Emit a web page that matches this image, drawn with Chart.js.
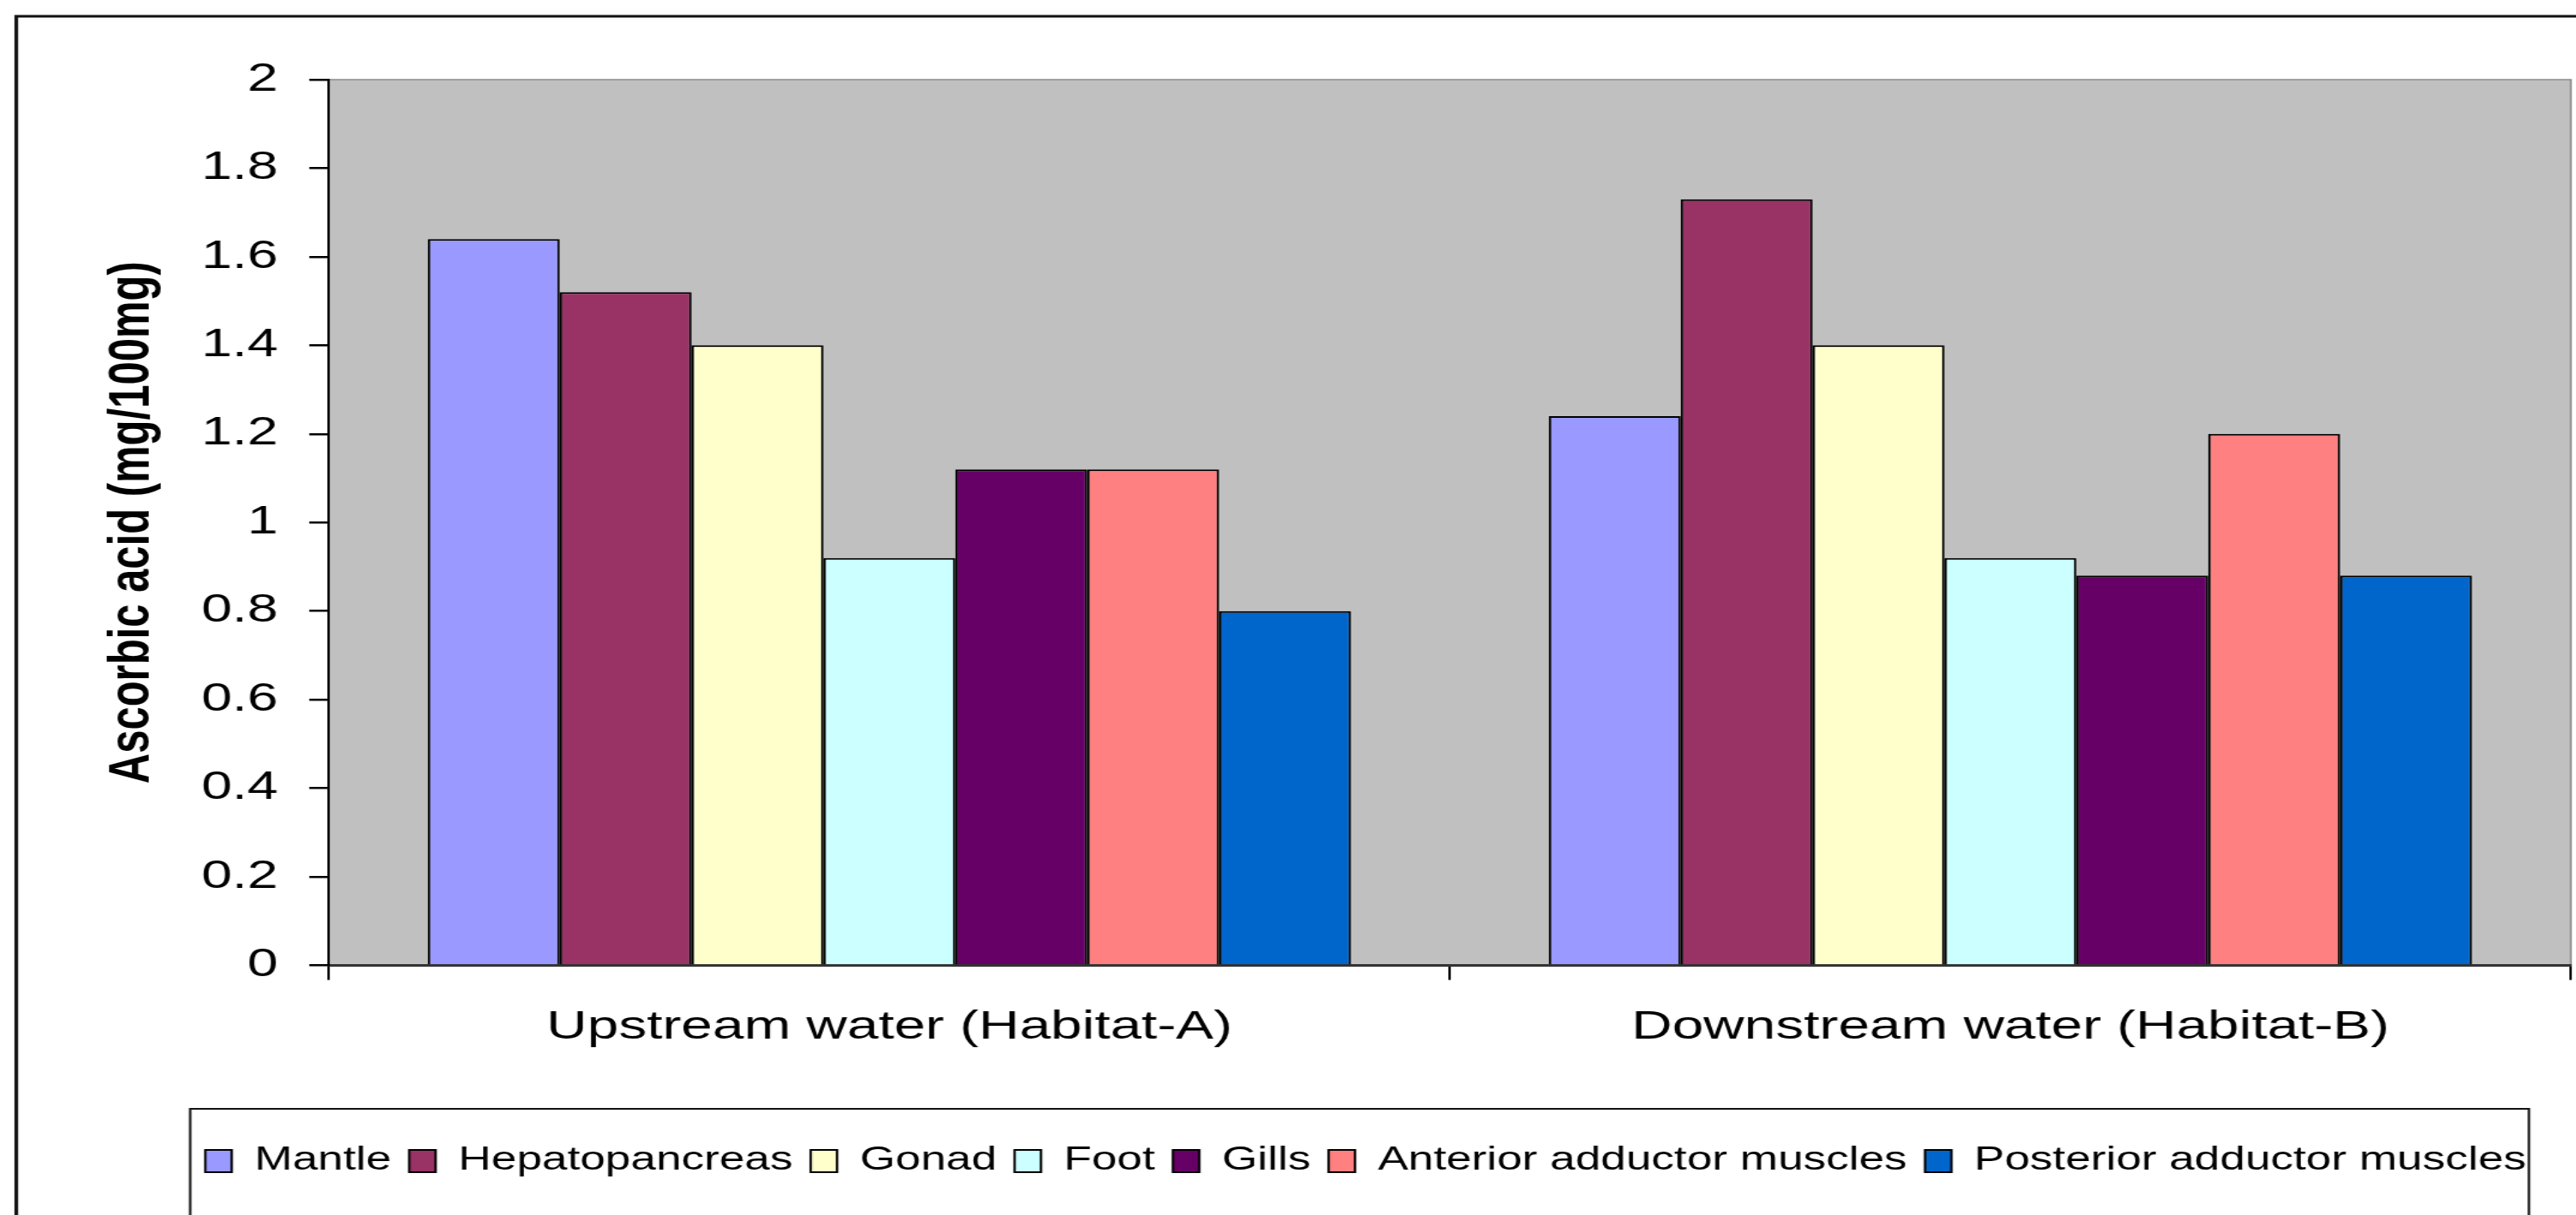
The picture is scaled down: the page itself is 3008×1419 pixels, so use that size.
<!DOCTYPE html>
<html>
<head>
<meta charset="utf-8">
<script src="https://cdn.jsdelivr.net/npm/chart.js@4.4.1/dist/chart.umd.min.js"></script>
<style>
html,body{margin:0;padding:0;background:#fff;overflow:hidden;width:3008px;height:1419px}
#wrap{position:absolute;left:0;top:0;width:2149px;height:1419px;transform:scaleX(1.4);transform-origin:0 0}
canvas{display:block}
</style>
</head>
<body>
<div id="wrap"><canvas id="c" width="2149" height="1419"></canvas></div>
<script>
// ---- data ----
const categories = ['Upstream water (Habitat-A)', 'Downstream water (Habitat-B)'];
const seriesNames = ['Mantle', 'Hepatopancreas', 'Gonad', 'Foot', 'Gills', 'Anterior adductor muscles', 'Posterior adductor muscles'];
const mantle = [1.64, 1.24];
const hepatopancreas = [1.52, 1.73];
const gonad = [1.40, 1.40];
const foot = [0.92, 0.92];
const gills = [1.12, 0.88];
const anteriorAdductor = [1.12, 1.20];
const posteriorAdductor = [0.80, 0.88];
const yTickLabels = ['0', '0.2', '0.4', '0.6', '0.8', '1', '1.2', '1.4', '1.6', '1.8', '2'];
const yTitle = 'Ascorbic acid (mg/100mg)';

// ---- style ----
const seriesValues = [mantle, hepatopancreas, gonad, foot, gills, anteriorAdductor, posteriorAdductor];
const seriesColors = ['#9999FF', '#993366', '#FFFFCC', '#CCFFFF', '#660066', '#FF8080', '#0066CC'];
const FONT = "'Liberation Sans', Arial, Helvetica, sans-serif";

const decor = {
  id: 'decor',
  afterLayout(chart) {
    chart.legend.left = 134;
  },
  beforeDraw(chart) {
    const ctx = chart.ctx, a = chart.chartArea;
    ctx.save();
    ctx.fillStyle = '#ffffff';
    ctx.fillRect(0, 0, chart.width, chart.height);
    ctx.fillStyle = '#C0C0C0';
    ctx.fillRect(a.left, a.top, a.right - a.left, a.bottom - a.top);
    ctx.strokeStyle = '#8a8a8a';
    ctx.lineWidth = 1.5;
    ctx.strokeRect(a.left, a.top, a.right - a.left, a.bottom - a.top);
    // outer frame
    ctx.strokeStyle = '#111';
    ctx.lineWidth = 3;
    ctx.beginPath();
    ctx.moveTo(13.6, 1500);
    ctx.lineTo(13.6, 19);
    ctx.lineTo(2300, 19);
    ctx.stroke();
    ctx.restore();
  },
  afterDraw(chart) {
    const ctx = chart.ctx;
    ctx.save();
    ctx.strokeStyle = '#111';
    ctx.lineWidth = 2;
    ctx.strokeRect(158.6, 1295, 2109.3 - 158.6, 200);
    ctx.restore();
  }
};

new Chart(document.getElementById('c'), {
  type: 'bar',
  data: {
    labels: categories,
    datasets: seriesNames.map((name, i) => ({
      label: name,
      data: seriesValues[i],
      backgroundColor: seriesColors[i],
      borderColor: '#000',
      borderWidth: 2,
      categoryPercentage: 0.8235,
      barPercentage: 1.0
    }))
  },
  options: {
    responsive: false,
    devicePixelRatio: 1,
    animation: false,
    layout: { padding: { left: 0, right: 4.7, top: 93, bottom: 34 } },
    plugins: {
      tooltip: { enabled: false },
      legend: {
        position: 'bottom',
        labels: {
          color: '#000',
          font: { family: FONT, size: 38 },
          boxWidth: 22,
          boxHeight: 26,
          padding: 15
        }
      }
    },
    scales: {
      x: {
        grid: { display: true, drawOnChartArea: false, drawTicks: true, tickLength: 17, color: '#000', lineWidth: 2, offset: true },
        border: { display: true, color: '#333', width: 3 },
        ticks: { color: '#000', font: { family: FONT, size: 47 }, padding: 27, maxRotation: 0 },
        afterFit(scale) { scale.height = 194.5; }
      },
      y: {
        min: 0,
        max: 2,
        grid: { display: true, drawOnChartArea: false, drawTicks: true, tickLength: 16.4, color: '#000', lineWidth: 2.5 },
        border: { display: true, color: '#000', width: 2 },
        ticks: {
          stepSize: 0.2,
          color: '#000',
          font: { family: FONT, size: 46 },
          padding: 26,
          callback: (v, i) => yTickLabels[i]
        },
        title: {
          display: true,
          text: yTitle,
          color: '#000',
          font: { family: FONT, size: 49, weight: 'bold' },
          padding: { top: 80.6, bottom: 0 }
        },
        afterFit(scale) { scale.width = 274.3; }
      }
    }
  },
  plugins: [decor]
});
</script>
</body>
</html>
